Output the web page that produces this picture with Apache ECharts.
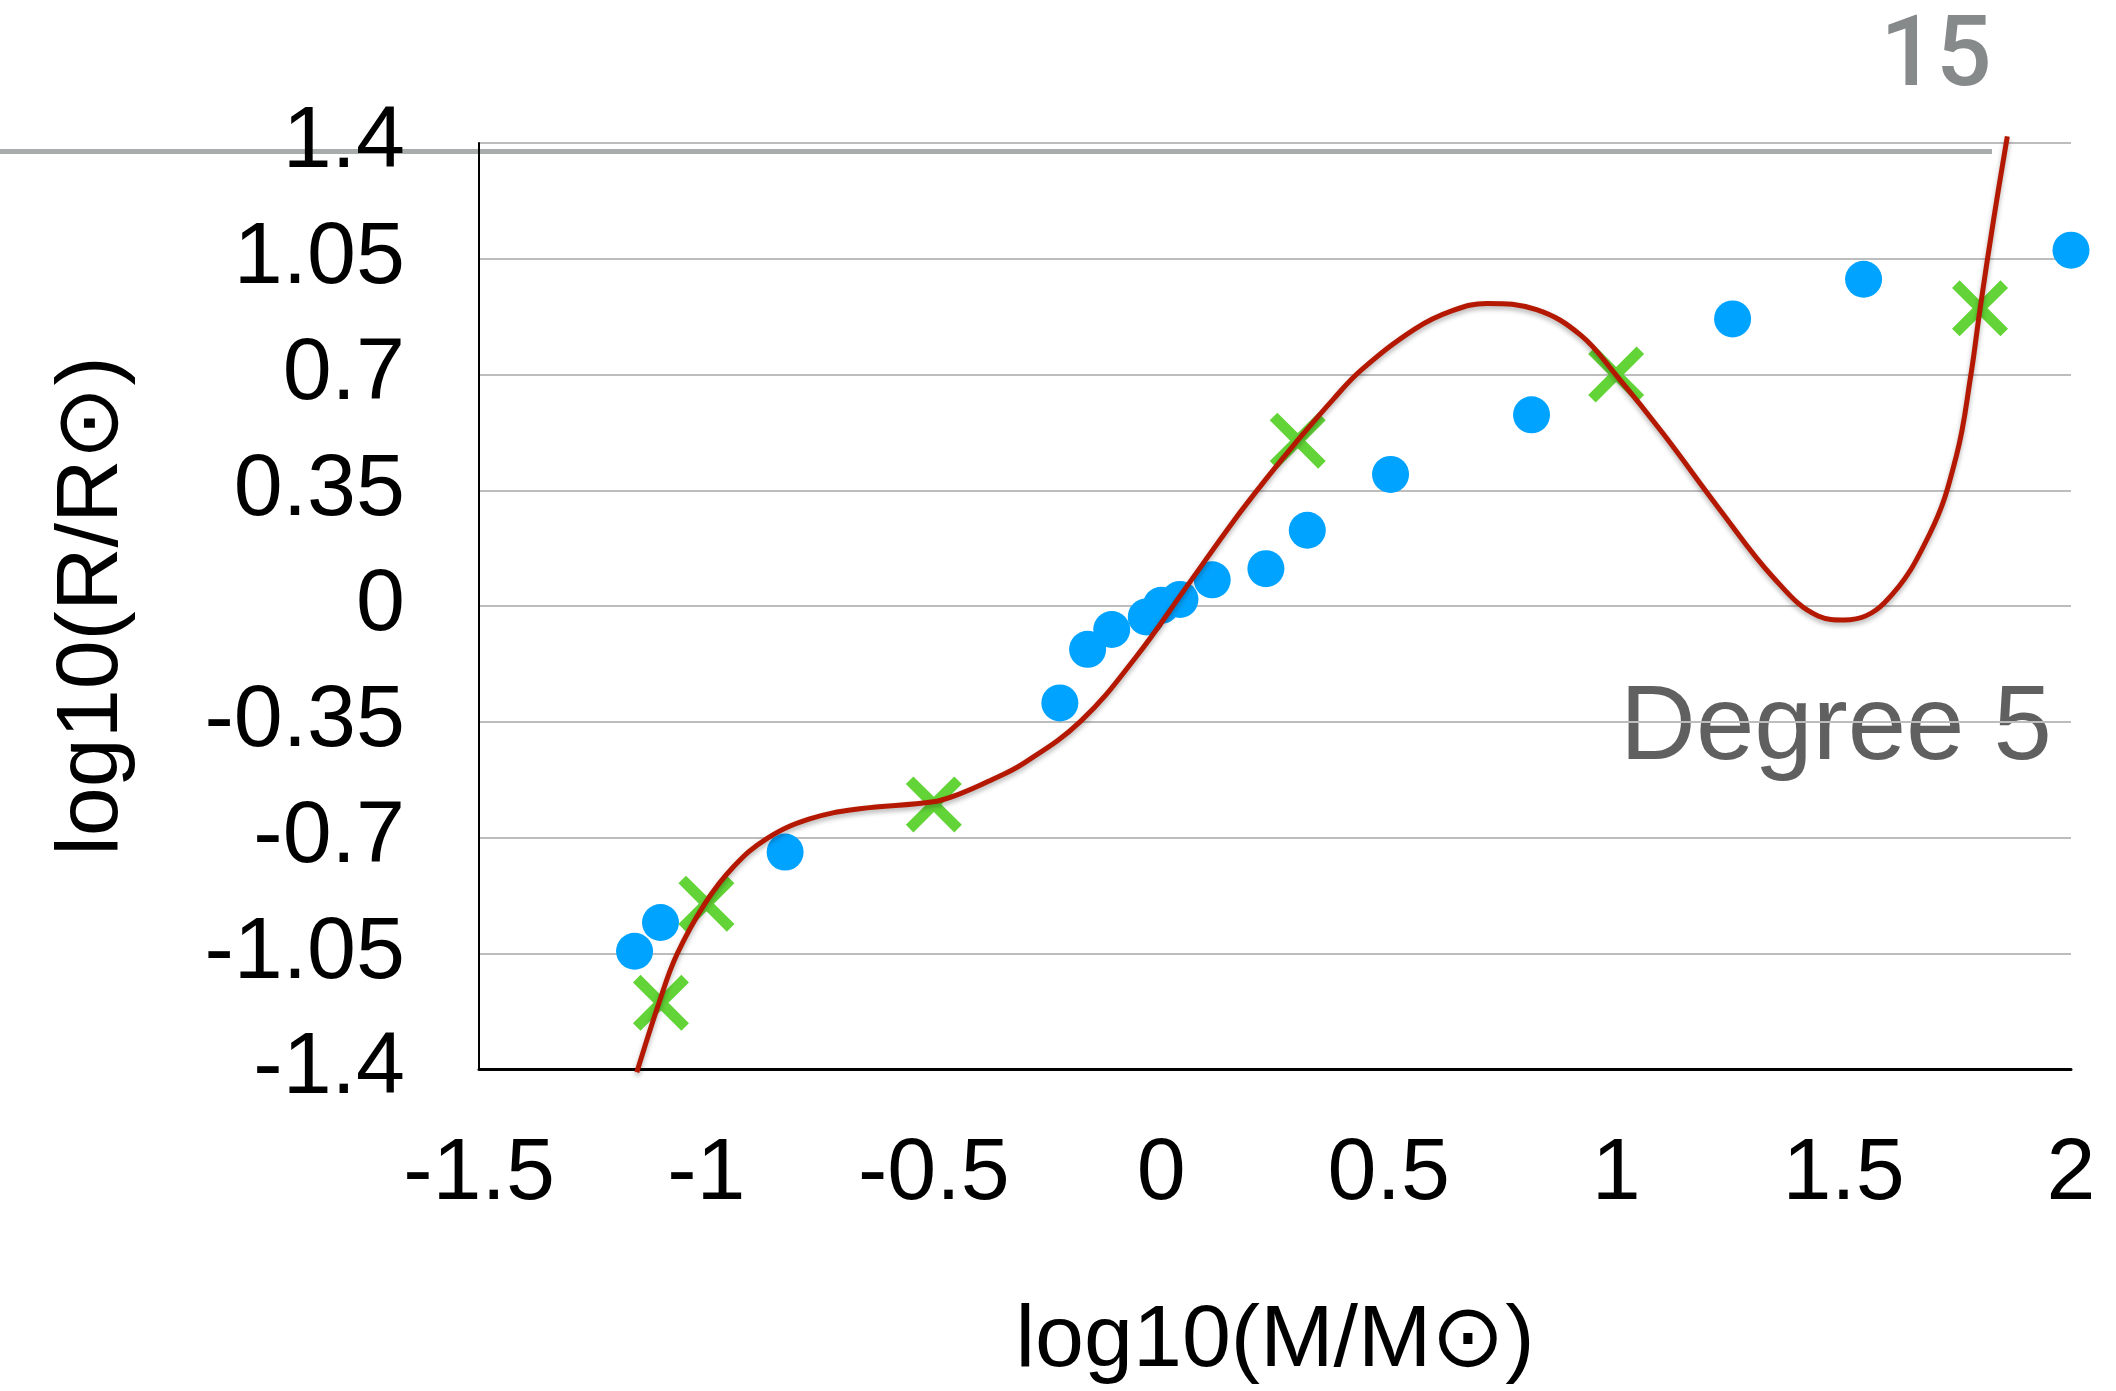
<!DOCTYPE html>
<html>
<head>
<meta charset="utf-8">
<style>
  html, body { margin: 0; padding: 0; background: #ffffff; overflow: hidden; }
  #chart { width: 2116px; height: 1391px; }
</style>
<script src="https://cdn.jsdelivr.net/npm/echarts@6/dist/echarts.min.js"></script>
</head>
<body>
<div id="chart"></div>
<script>
// ---- Data ----
const starMassX = [-1.158, -1.101, -0.827, -0.223, -0.162, -0.109, -0.033, 0.000, 0.041, 0.112, 0.230, 0.321, 0.504, 0.814, 1.256, 1.544, 2.000];
const starRadiusY = [-1.044, -0.957, -0.744, -0.293, -0.131, -0.071, -0.033, 0.002, 0.020, 0.079, 0.113, 0.229, 0.398, 0.578, 0.868, 0.988, 1.076];

const sampleX = [-1.1, -1.0, -0.5, 0.3, 1.0, 1.8];
const sampleY = [-1.2, -0.9, -0.6, 0.5, 0.7, 0.9];

const curveX = [-1.153, -1.104, -1.065, -1.003, -0.941, -0.868, -0.773, -0.663, -0.501, -0.443, -0.378, -0.302, -0.177, -0.056, 0.055, 0.158, 0.231, 0.298, 0.378, 0.44, 0.558, 0.64, 0.716, 0.825, 0.922, 1.0, 1.104, 1.226, 1.347, 1.444, 1.502, 1.59, 1.69, 1.748, 1.78, 1.8, 1.83, 1.86];
const curveY = [-1.41, -1.199, -1.054, -0.899, -0.789, -0.704, -0.644, -0.613, -0.592, -0.568, -0.529, -0.475, -0.348, -0.155, 0.057, 0.255, 0.385, 0.498, 0.625, 0.714, 0.838, 0.893, 0.915, 0.896, 0.819, 0.698, 0.520, 0.295, 0.084, -0.030, -0.042, 0.010, 0.220, 0.454, 0.70, 0.898, 1.17, 1.42];

const xTickLabels = ['-1.5', '-1', '-0.5', '0', '0.5', '1', '1.5', '2'];
const yTickLabels = ['-1.4', '-1.05', '-0.7', '-0.35', '0', '0.35', '0.7', '1.05', '1.4'];

const xTitle = 'log10(M/M\u2299)';
const yTitle = 'log10(R/R\u2299)';
const annotation = 'Degree 5';
const pageNumber = '15';

// ---- Build options ----
const zip = (a, b) => a.map((v, i) => [v, b[i]]);
const pickLabel = (labels) => (v) => {
  const f = labels.find(l => Math.abs(parseFloat(l) - v) < 1e-6);
  return f !== undefined ? f : String(v);
};

const FONT = '"Liberation Sans", Arial, Helvetica, sans-serif';

const d = 13.5;
const crossPath = 'path://M' + d + ',0 L50,' + (50 - d) + ' L' + (100 - d) + ',0 L100,' + d +
  ' L' + (50 + d) + ',50 L100,' + (100 - d) + ' L' + (100 - d) + ',100 L50,' + (50 + d) +
  ' L' + d + ',100 L0,' + (100 - d) + ' L' + (50 - d) + ',50 L0,' + d + ' Z';

const chart = echarts.init(document.getElementById('chart'), null, { renderer: 'canvas' });

chart.setOption({
  animation: false,
  backgroundColor: '#ffffff',
  grid: { left: 479, top: 143, right: 45, bottom: 316, containLabel: false },
  xAxis: {
    type: 'value',
    min: -1.5, max: 2, interval: 0.5,
    axisLine: { show: true, onZero: false, lineStyle: { color: '#000000', width: 3 } },
    axisTick: { show: false },
    splitLine: { show: false },
    axisLabel: {
      color: '#000000', fontSize: 88, fontFamily: FONT, margin: 62,
      formatter: pickLabel(xTickLabels), showMinLabel: true, showMaxLabel: true
    },
    name: xTitle,
    nameLocation: 'middle',
    nameGap: 229,
    nameTextStyle: { color: '#000000', fontSize: 88, fontFamily: FONT }
  },
  yAxis: {
    type: 'value',
    min: -1.4, max: 1.4, interval: 0.35,
    axisLine: { show: true, onZero: false, lineStyle: { color: '#000000', width: 2 } },
    axisTick: { show: false },
    splitLine: { show: true, lineStyle: { color: '#bdbdbd', width: 2 } },
    axisLabel: {
      color: '#000000', fontSize: 88, fontFamily: FONT, margin: 74,
      padding: [8, 0, 0, 0],
      formatter: pickLabel(yTickLabels), showMinLabel: true, showMaxLabel: true
    },
    name: yTitle,
    nameLocation: 'middle',
    nameGap: 342,
    nameTextStyle: { color: '#000000', fontSize: 88, fontFamily: FONT }
  },
  graphic: [
    {
      type: 'rect', z: -1, silent: true,
      shape: { x: 0, y: 149, width: 1992, height: 5 },
      style: { fill: '#a9acac' }
    },
    {
      type: 'text', silent: true,
      style: {
        text: pageNumber, x: 1936, y: 60,
        textAlign: 'center', textVerticalAlign: 'middle',
        font: '500 98px Roboto, "Liberation Sans", Arial, sans-serif',
        fill: '#868a8a'
      }
    },
    {
      type: 'text', silent: true,
      style: {
        text: annotation, x: 2052, y: 730,
        textAlign: 'right', textVerticalAlign: 'middle',
        font: '105px "Liberation Sans", Arial, Helvetica, sans-serif',
        fill: '#606060'
      }
    }
  ],
  series: [
    {
      type: 'scatter',
      data: zip(starMassX, starRadiusY),
      symbol: 'circle',
      symbolSize: 37,
      itemStyle: { color: '#00a3ff', opacity: 1 },
      z: 2
    },
    {
      type: 'scatter',
      data: zip(sampleX, sampleY),
      symbol: crossPath,
      symbolSize: 56,
      itemStyle: { color: '#62d437', opacity: 1 },
      z: 3
    },
    {
      type: 'line',
      data: zip(curveX, curveY),
      smooth: 0.4,
      showSymbol: false,
      symbol: 'none',
      clip: false,
      lineStyle: {
        color: '#b51800', width: 5,
        shadowColor: 'rgba(0,0,0,0.3)', shadowBlur: 5, shadowOffsetY: 3
      },
      z: 4
    }
  ]
});
</script>
</body>
</html>
